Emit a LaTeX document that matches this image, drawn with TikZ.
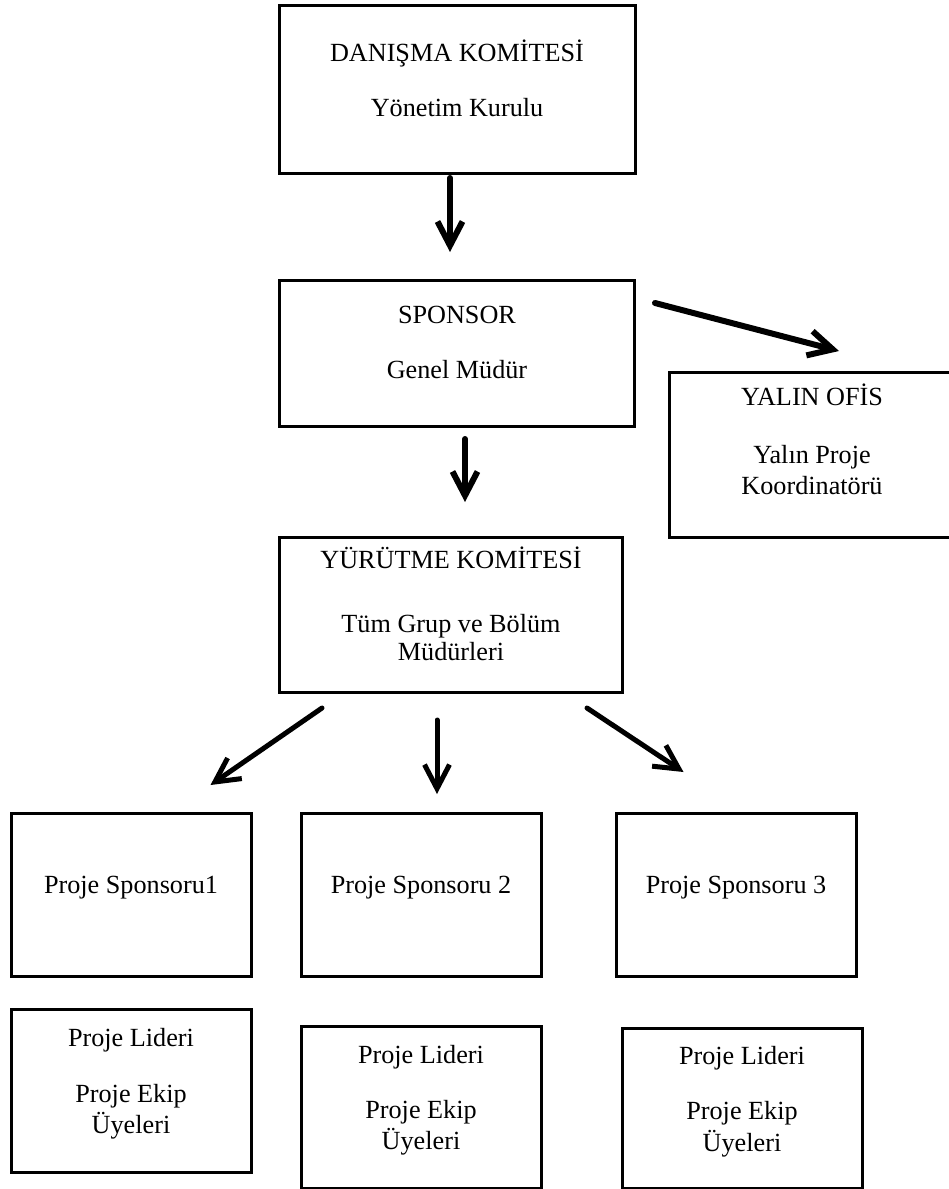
\documentclass[tikz,border=0pt]{standalone}
\usepackage{fontspec}
\setmainfont{Liberation Serif}
\usetikzlibrary{arrows.meta}
\begin{document}
\begin{tikzpicture}[x=1pt,y=-1pt,
  box/.style={draw=black, line width=3pt, rectangle, inner sep=0pt},
  lbl/.style={anchor=base, inner sep=0pt, font=\fontsize{26.2}{30}\selectfont},
  arr/.style={line width=6pt, line cap=round, line join=round,
    -{Straight Barb[length=24pt,width=25pt]}},
  arrthin/.style={arr, line width=5pt}]
\useasboundingbox (0,0) rectangle (948,1189);

% boxes
\node[box, minimum width=356pt, minimum height=168pt] (adv) at (457,89) {};
\node[box, minimum width=355pt, minimum height=146pt] (sp)  at (456.5,353) {};
\node[box, minimum width=286pt, minimum height=165pt] (yo)  at (812,454.5) {};
\node[box, minimum width=343pt, minimum height=155pt] (yk)  at (450.5,614.5) {};
\node[box, minimum width=240pt, minimum height=163pt] (ps1) at (131,894.5) {};
\node[box, minimum width=240pt, minimum height=163pt] (ps2) at (421,894.5) {};
\node[box, minimum width=240pt, minimum height=163pt] (ps3) at (736,894.5) {};
\node[box, minimum width=240pt, minimum height=163pt] (pl1) at (131,1090.5) {};
\node[box, minimum width=240pt, minimum height=162pt] (pl2) at (421,1107) {};
\node[box, minimum width=240pt, minimum height=160pt] (pl3) at (742,1108) {};

% texts
\node[lbl] (adv1) at (457,61)  {DANIŞMA KOMİTESİ};
\node[lbl] (adv2) at (457,116) {Yönetim Kurulu};
\node[lbl] (sp1)  at (457,323) {SPONSOR};
\node[lbl] (sp2)  at (457,378) {Genel Müdür};
\node[lbl] (yo1)  at (812,405) {YALIN OFİS};
\node[lbl] (yo2)  at (812,463) {Yalın Proje};
\node[lbl] (yo3)  at (812,494) {Koordinatörü};
\node[lbl] (yk1)  at (451,568) {YÜRÜTME KOMİTESİ};
\node[lbl] (yk2)  at (451,632) {Tüm Grup ve Bölüm};
\node[lbl] (yk3)  at (451,660) {Müdürleri};
\node[lbl] (ps1t) at (131,893) {Proje Sponsoru1};
\node[lbl] (ps2t) at (421,893) {Proje Sponsoru 2};
\node[lbl] (ps3t) at (736,893) {Proje Sponsoru 3};
\node[lbl] (pl1a) at (131,1046) {Proje Lideri};
\node[lbl] (pl1b) at (131,1102) {Proje Ekip};
\node[lbl] (pl1c) at (131,1133) {Üyeleri};
\node[lbl] (pl2a) at (421,1063) {Proje Lideri};
\node[lbl] (pl2b) at (421,1118) {Proje Ekip};
\node[lbl] (pl2c) at (421,1149) {Üyeleri};
\node[lbl] (pl3a) at (742,1064) {Proje Lideri};
\node[lbl] (pl3b) at (742,1119) {Proje Ekip};
\node[lbl] (pl3c) at (742,1151) {Üyeleri};

% arrow end points
\coordinate (a1s) at (450,178);  \coordinate (a1e) at (450,252);
\coordinate (a2s) at (465,439);  \coordinate (a2e) at (465,502);
\coordinate (a3s) at (655,303);  \coordinate (a3e) at (839,351);
\coordinate (a4s) at (322,708);  \coordinate (a4e) at (210.5,785);
\coordinate (a5s) at (437,720);  \coordinate (a5e) at (437,794);
\coordinate (a6s) at (587,708);  \coordinate (a6e) at (683.5,772);

% connectors
\draw[arr] (a1s) -- (a1e);
\draw[arr] (a2s) -- (a2e);
\draw[arr] (a3s) -- (a3e);
\draw[arrthin] (a4s) -- (a4e);
\draw[arrthin] (a5s) -- (a5e);
\draw[arrthin] (a6s) -- (a6e);
\end{tikzpicture}
\end{document}
